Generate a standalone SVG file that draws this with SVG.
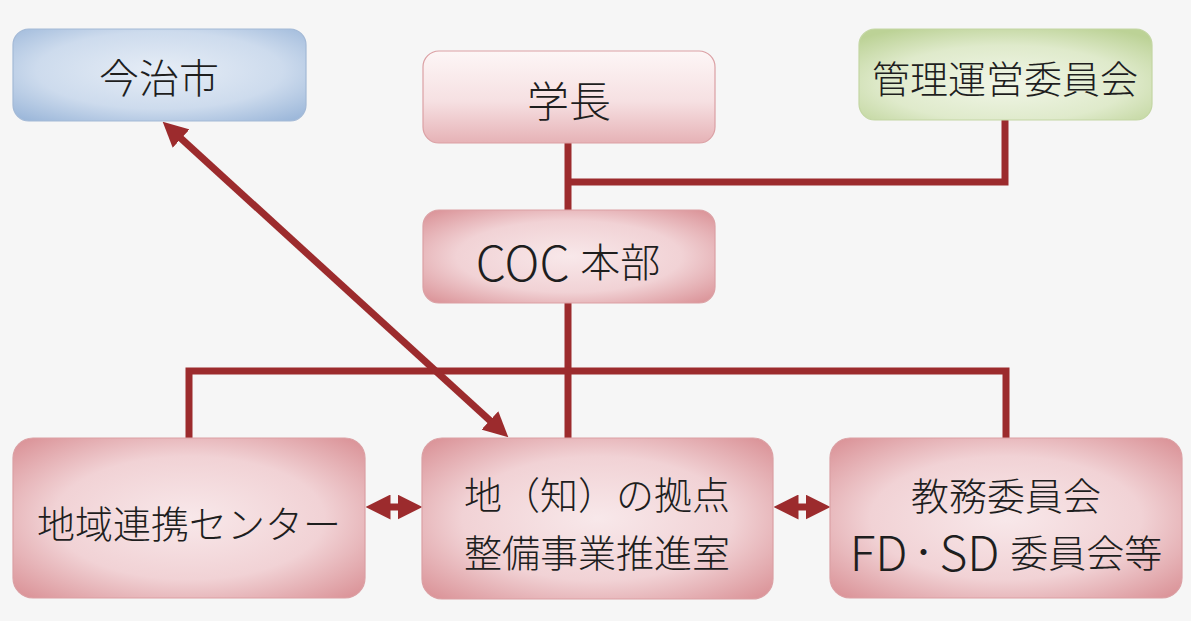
<svg xmlns="http://www.w3.org/2000/svg" width="1191" height="621" viewBox="0 0 1191 621">
  <defs>
    <radialGradient id="pink" cx="50%" cy="50%" r="70%">
      <stop offset="0%" stop-color="#f8e8ea"/>
      <stop offset="55%" stop-color="#f1d2d5"/>
      <stop offset="100%" stop-color="#d98f94"/>
    </radialGradient>
    <linearGradient id="pinkTop" x1="0" y1="0" x2="0" y2="1">
      <stop offset="0%" stop-color="#fdf6f6"/>
      <stop offset="55%" stop-color="#f6e0e2"/>
      <stop offset="100%" stop-color="#e6b2b6"/>
    </linearGradient>
    <radialGradient id="blue" cx="50%" cy="45%" r="70%">
      <stop offset="0%" stop-color="#e6edf6"/>
      <stop offset="60%" stop-color="#cddbed"/>
      <stop offset="100%" stop-color="#9db8da"/>
    </radialGradient>
    <radialGradient id="green" cx="50%" cy="60%" r="70%">
      <stop offset="0%" stop-color="#f1f6e8"/>
      <stop offset="60%" stop-color="#dfeacb"/>
      <stop offset="100%" stop-color="#bcd296"/>
    </radialGradient>
    <marker id="ah" viewBox="0 0 10 10" refX="5" refY="5" markerUnits="userSpaceOnUse" markerWidth="25" markerHeight="25" orient="auto-start-reverse">
      <path d="M0,0 L10,5 L0,10 z" fill="#9c2b2d"/>
    </marker>
    <style>
      .n-pink { fill: url(#pink); stroke: #dba0a4; stroke-width: 1.2; }
      .n-pink2 { fill: url(#pinkTop); stroke: #dba0a4; stroke-width: 1.2; }
      .n-blue { fill: url(#blue); stroke: #a3b9d6; stroke-width: 1.2; }
      .n-green { fill: url(#green); stroke: #c3d6a3; stroke-width: 1.2; }
      .lbl { font-family: "Noto Sans CJK JP", "Noto Sans", sans-serif; font-weight: 300; fill: #1e1e1e; text-anchor: middle; dominant-baseline: central; }
      .lat { font-size: 48px; }
      .conn { stroke: #9c2b2d; stroke-width: 7; fill: none; }
    </style>
  </defs>
  <rect width="1191" height="621" fill="#f6f6f6"/>

  <g id="connectors">
    <polyline class="conn" points="568,143 568,210"/>
    <polyline class="conn" points="568,182 1005,182 1005,120"/>
    <polyline class="conn" points="568,303 568,438"/>
    <polyline class="conn" points="189,438 189,371 1006,371 1006,438"/>
    <line class="conn" x1="171.9" y1="130.1" x2="499.1" y2="428.9" marker-start="url(#ah)" marker-end="url(#ah)"/>
    <line class="conn" x1="378" y1="507" x2="410" y2="507" marker-start="url(#ah)" marker-end="url(#ah)"/>
    <line class="conn" x1="786" y1="507" x2="818" y2="507" marker-start="url(#ah)" marker-end="url(#ah)"/>
  </g>

  <g id="node-imabari">
    <rect class="n-blue" x="13" y="29" width="293" height="92" rx="16"/>
    <text class="lbl" x="159" y="76" font-size="40">今治市</text>
  </g>

  <g id="node-gakucho">
    <rect class="n-pink2" x="423" y="51" width="292" height="92" rx="16"/>
    <text class="lbl" x="569" y="98" font-size="42">学長</text>
  </g>

  <g id="node-kanri">
    <rect class="n-green" x="859" y="29" width="293" height="91" rx="16"/>
    <text class="lbl" x="1005" y="76" font-size="38">管理運営委員会</text>
  </g>

  <g id="node-coc">
    <rect class="n-pink" x="423" y="210" width="292" height="93" rx="16"/>
    <text class="lbl" x="568" y="260" font-size="40"><tspan class="lat">COC </tspan>本部</text>
  </g>

  <g id="node-chiiki">
    <rect class="n-pink" x="13" y="438" width="352" height="160" rx="20"/>
    <text class="lbl" x="189" y="521" font-size="38">地域連携センター</text>
  </g>

  <g id="node-kyoten">
    <rect class="n-pink" x="422" y="438" width="351" height="161" rx="20"/>
    <text class="lbl" x="597" y="492" font-size="38">地（知）の拠点</text>
    <text class="lbl" x="597" y="550" font-size="38">整備事業推進室</text>
  </g>

  <g id="node-kyomu">
    <rect class="n-pink" x="830" y="438" width="352" height="160" rx="20"/>
    <text class="lbl" x="1006" y="493" font-size="38">教務委員会</text>
    <text class="lbl" x="1006" y="550" font-size="38"><tspan class="lat">FD</tspan><tspan font-size="32">・</tspan><tspan class="lat">SD </tspan>委員会等</text>
  </g>
</svg>
